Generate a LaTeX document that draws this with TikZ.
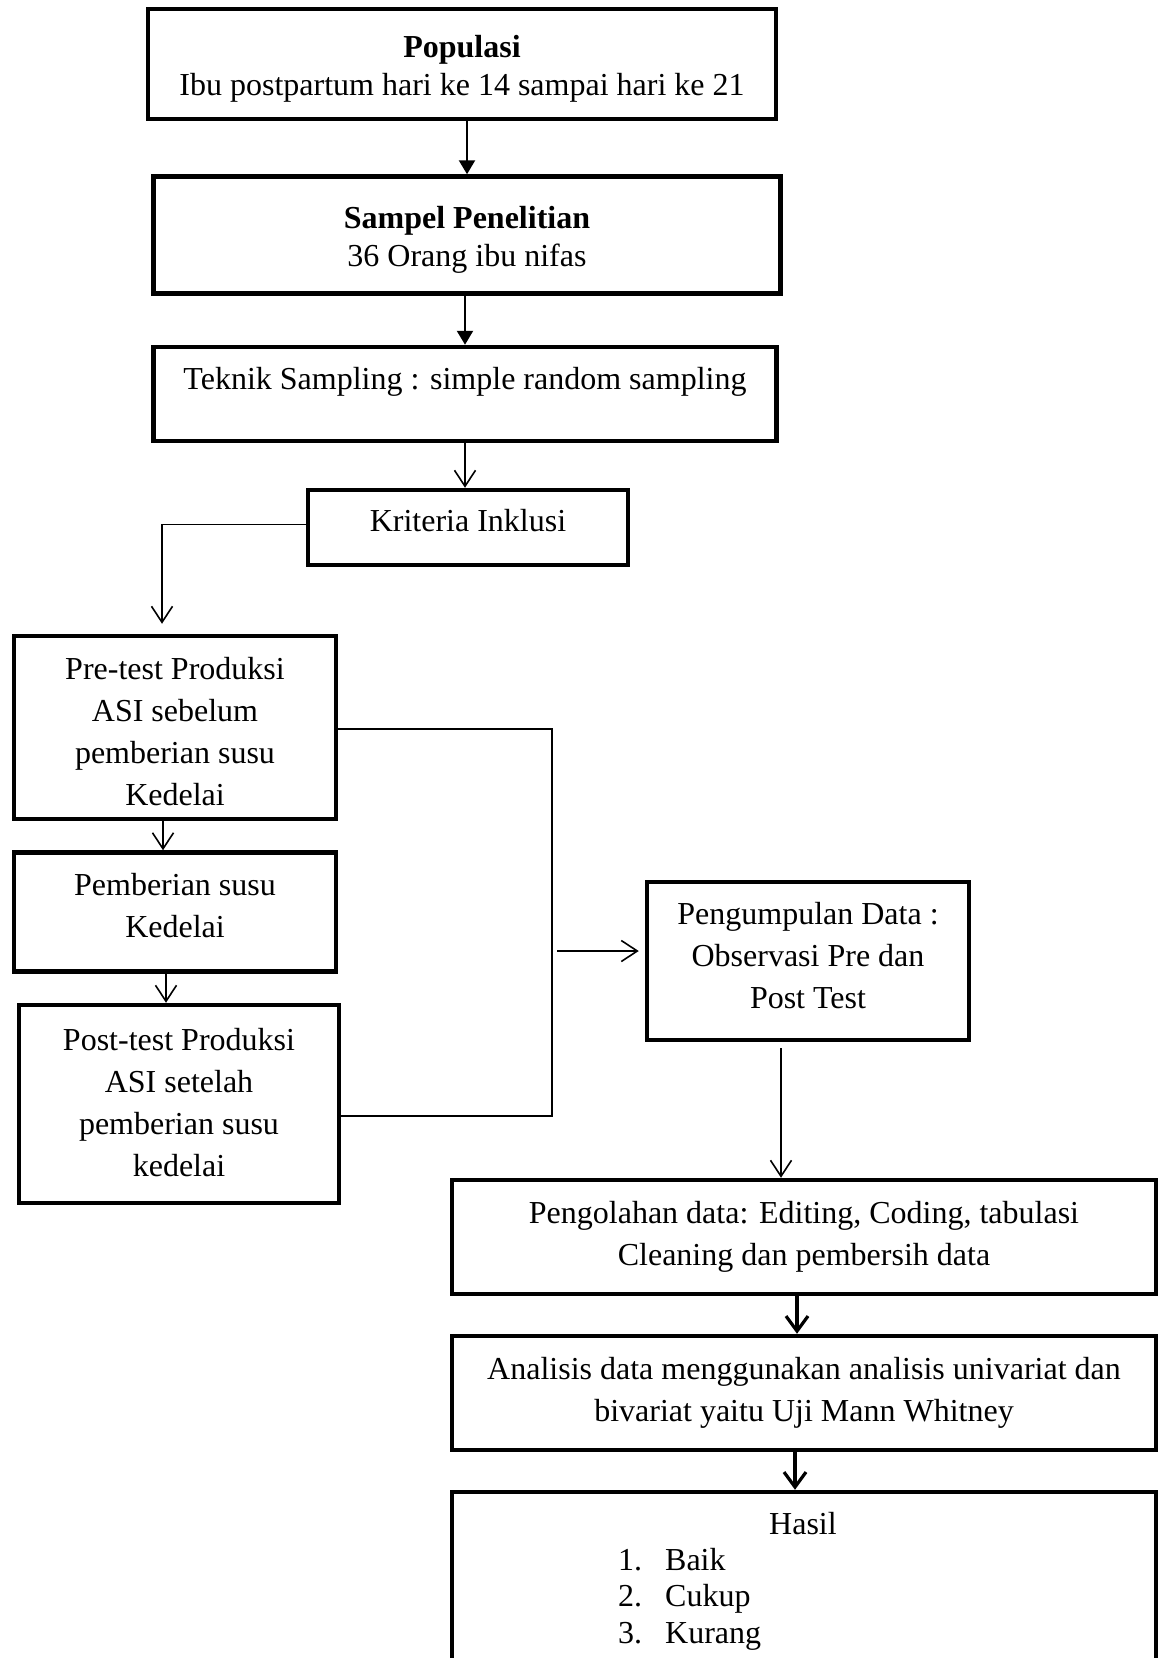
\documentclass[tikz,border=0pt]{standalone}
\usepackage{fontspec}
\setmainfont{Liberation Serif}
\usepackage{tikz}
\usetikzlibrary{arrows.meta, positioning, calc}

\begin{document}
\begin{tikzpicture}[
    x=1pt, y=-1pt,
    font=\fontsize{32}{42}\selectfont,
    proc/.style={rectangle, draw, line width=4.5pt, inner sep=0pt, align=center},
    link/.style={line width=1.6pt, -{Straight Barb[length=16pt,width=21pt]}},
    solidlink/.style={line width=2.4pt, -{Triangle[length=14pt,width=16pt]}},
    heavylink/.style={line width=3.2pt, -{Straight Barb[length=15pt,width=22pt]}},
]
\useasboundingbox (0,0) rectangle (1165,1658);
\node[proc, minimum width=628, minimum height=110, text height=69pt, font=\fontsize{32}{38}\selectfont] (pop) at (462,64) {\textbf{Populasi}\\Ibu postpartum hari ke 14 sampai hari ke 21};
\node[proc, minimum width=627, minimum height=117, text height=69pt, font=\fontsize{32}{38}\selectfont] (samp) at (467,235) {\textbf{Sampel Penelitian}\\36 Orang ibu nifas};
\node[proc, minimum width=623, minimum height=94, text depth=32pt] (tek) at (465,394) {Teknik Sampling : simple random sampling};
\node[proc, minimum width=320, minimum height=75, text depth=14pt] (krit) at (468,527.5) {Kriteria Inklusi};
\node[proc, minimum width=322, minimum height=183, text height=157pt] (pre) at (175,727.5) {Pre-test Produksi\\ASI sebelum\\pemberian susu\\Kedelai};
\node[proc, minimum width=322, minimum height=119, text depth=14pt] (pemb) at (175,912) {Pemberian susu\\Kedelai};
\node[proc, minimum width=320, minimum height=198, text depth=4pt] (post) at (179,1104) {Post-test Produksi\\ASI setelah\\pemberian susu\\kedelai};
\node[proc, minimum width=322, minimum height=158, text depth=12pt] (kump) at (808,961) {Pengumpulan Data :\\Observasi Pre dan\\Post Test};
\node[proc, minimum width=704, minimum height=114] (olah) at (804,1237) {Pengolahan data: Editing, Coding, tabulasi\\Cleaning dan pembersih data};
\node[proc, minimum width=704, minimum height=114, below=37.5pt of olah] (anal) {Analisis data menggunakan analisis univariat dan\\bivariat yaitu Uji Mann Whitney};
\node[proc, minimum width=704, minimum height=220, below=37.5pt of anal] (hasil) {};
\node (hasiltitle) at (803,1524) {Hasil};
\node[anchor=west, inner sep=0pt, font=\fontsize{32}{36.5}\selectfont] (hasillist) at (618,1599.5) {\begin{tabular}{@{}l@{\hspace{23pt}}l@{}}1. & Baik\\2. & Cukup\\3. & Kurang\end{tabular}};

\coordinate (jn) at (552,951);
\draw[solidlink] (samp.north |- pop.south) -- (samp.north);
\draw[solidlink] (tek.north |- samp.south) -- (tek.north);
\draw[link] (tek.south) -- (tek.south |- krit.north);
\draw[link] ([yshift=3pt]krit.west) -| ([xshift=-13pt,yshift=10pt]pre.north);
\draw[link] ([xshift=-12pt]pre.south) -- ([xshift=-12pt]pre.south |- pemb.north);
\draw[link] ([xshift=-9pt]pemb.south) -- ([xshift=-9pt]pemb.south |- post.north);
\draw[line width=1.6pt] ([yshift=-1.5pt]pre.east) -| ([yshift=-12pt]jn |- post.east) -- ([yshift=-12pt]post.east);
\draw[link, shorten >=6pt] ([xshift=5pt]jn) -- ([yshift=10pt]kump.west);
\draw[link] ([xshift=-27pt,yshift=-6pt]kump.south) -- ([xshift=-27pt]kump.south |- olah.north);
\draw[heavylink] ([xshift=-7pt]olah.south) -- ([xshift=-7pt]olah.south |- anal.north);
\draw[heavylink] ([xshift=-9pt]anal.south) -- ([xshift=-9pt]anal.south |- hasil.north);
\end{tikzpicture}
\end{document}
